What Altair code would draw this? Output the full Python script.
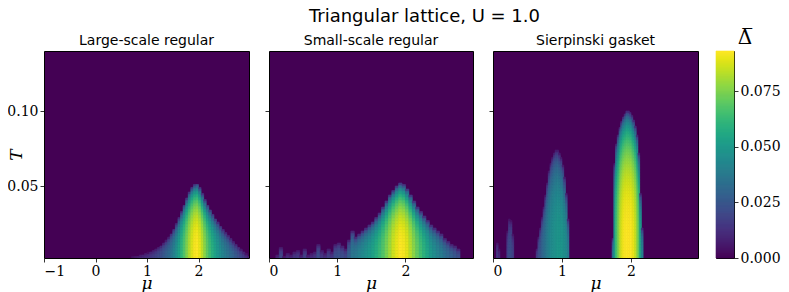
import altair as alt
import numpy as np
import pandas as pd

T_MIN, T_MAX, T_STEP = 0.002, 0.14, 0.001
GAP_MAX = 0.093

# ---------------- Panel 1: Large-scale regular (mu columns, width 0.05) ----------------
p1_step = 0.05
p1_mu = [0.60, 0.65, 0.70, 0.75, 0.80, 0.85, 0.90, 0.95, 1.00, 1.05, 1.10, 1.15,
         1.20, 1.25, 1.30, 1.35, 1.40, 1.45, 1.50, 1.55, 1.60, 1.65, 1.70, 1.75,
         1.80, 1.85, 1.90, 1.95, 2.00, 2.05, 2.10, 2.15, 2.20, 2.25, 2.30, 2.35,
         2.40, 2.45, 2.50, 2.55, 2.60, 2.65, 2.70, 2.75, 2.80, 2.85, 2.90, 2.95]
p1_tc = [0.0022, 0.0025, 0.0028, 0.0031, 0.0035, 0.0040, 0.0045, 0.0050, 0.0056, 0.0063, 0.0071, 0.0080,
         0.0091, 0.0104, 0.0120, 0.0138, 0.0158, 0.0185, 0.0215, 0.0250, 0.0290, 0.0330, 0.0375, 0.0420,
         0.0460, 0.0490, 0.0510, 0.0515, 0.0490, 0.0450, 0.0410, 0.0375, 0.0345, 0.0315, 0.0285, 0.0260,
         0.0235, 0.0212, 0.0190, 0.0170, 0.0150, 0.0130, 0.0112, 0.0095, 0.0078, 0.0062, 0.0047, 0.0033]
p1_gap = [0.006, 0.007, 0.008, 0.009, 0.010, 0.011, 0.012, 0.013, 0.014, 0.016, 0.017, 0.019,
          0.021, 0.023, 0.026, 0.029, 0.032, 0.036, 0.041, 0.047, 0.054, 0.061, 0.068, 0.075,
          0.082, 0.088, 0.092, 0.093, 0.090, 0.084, 0.077, 0.070, 0.064, 0.059, 0.054, 0.050,
          0.046, 0.042, 0.039, 0.036, 0.033, 0.030, 0.027, 0.024, 0.021, 0.018, 0.015, 0.012]

# ---------------- Panel 2: Small-scale regular ----------------
p2_step = 0.05
p2_mu = [0.10, 0.15, 0.20, 0.25, 0.30, 0.35, 0.40, 0.45, 0.50, 0.55, 0.60, 0.65,
         0.70, 0.75, 0.80, 0.85, 0.90, 0.95, 1.00, 1.05, 1.10, 1.15, 1.20, 1.25,
         1.30, 1.35, 1.40, 1.45, 1.50, 1.55, 1.60, 1.65, 1.70, 1.75, 1.80, 1.85,
         1.90, 1.95, 2.00, 2.05, 2.10, 2.15, 2.20, 2.25, 2.30, 2.35, 2.40, 2.45,
         2.50, 2.55, 2.60, 2.65, 2.70, 2.75]
p2_tc = [0.004, 0.009, 0.003, 0.005, 0.004, 0.006, 0.007, 0.004, 0.008, 0.004, 0.005, 0.006,
         0.011, 0.007, 0.005, 0.008, 0.006, 0.011, 0.012, 0.010, 0.008, 0.014, 0.020, 0.016,
         0.018, 0.020, 0.022, 0.024, 0.026, 0.029, 0.032, 0.036, 0.040, 0.044, 0.047, 0.050,
         0.052, 0.051, 0.048, 0.044, 0.040, 0.036, 0.033, 0.030, 0.027, 0.024, 0.022, 0.020,
         0.018, 0.015, 0.013, 0.011, 0.010, 0.008]
p2_gap = [0.012, 0.020, 0.010, 0.013, 0.012, 0.015, 0.016, 0.012, 0.018, 0.012, 0.013, 0.015,
          0.022, 0.016, 0.014, 0.018, 0.016, 0.022, 0.024, 0.022, 0.020, 0.028, 0.036, 0.038,
          0.041, 0.044, 0.047, 0.050, 0.054, 0.058, 0.063, 0.068, 0.074, 0.080, 0.086, 0.090,
          0.093, 0.092, 0.089, 0.083, 0.077, 0.071, 0.065, 0.060, 0.055, 0.050, 0.046, 0.042,
          0.039, 0.035, 0.032, 0.029, 0.026, 0.023]

# ---------------- Panel 3: Sierpinski gasket (mu columns, width 0.025) ----------------
p3_step = 0.025
p3_mu = [0.050, 0.075, 0.200, 0.225, 0.250, 0.275,
         0.625, 0.650, 0.675, 0.700, 0.725, 0.750, 0.775, 0.800, 0.825, 0.850,
         0.875, 0.900, 0.925, 0.950, 0.975, 1.000, 1.025, 1.050, 1.075,
         1.725, 1.750, 1.775, 1.800, 1.825, 1.850, 1.875, 1.900, 1.925, 1.950,
         1.975, 2.000, 2.025, 2.050, 2.075, 2.100, 2.125, 2.150]
p3_tc = [0.012, 0.008, 0.020, 0.028, 0.027, 0.018,
         0.008, 0.016, 0.022, 0.029, 0.036, 0.044, 0.052, 0.060, 0.065, 0.069,
         0.072, 0.074, 0.074, 0.072, 0.069, 0.064, 0.056, 0.045, 0.028,
         0.015, 0.065, 0.078, 0.084, 0.089, 0.093, 0.096, 0.098, 0.100, 0.100,
         0.099, 0.097, 0.094, 0.090, 0.084, 0.072, 0.045, 0.022]
p3_gap = [0.016, 0.012, 0.018, 0.022, 0.022, 0.018,
          0.018, 0.022, 0.026, 0.030, 0.033, 0.036, 0.039, 0.042, 0.044, 0.046,
          0.047, 0.048, 0.049, 0.049, 0.049, 0.048, 0.047, 0.045, 0.040,
          0.035, 0.050, 0.065, 0.074, 0.082, 0.088, 0.091, 0.093, 0.093, 0.093,
          0.093, 0.092, 0.090, 0.086, 0.079, 0.070, 0.055, 0.040]

titles = ["Large-scale regular", "Small-scale regular", "Sierpinski gasket"]
x_domains = [[-1, 2.98], [0, 2.99], [0, 2.97]]
x_ticks = [[-1, 0, 1, 2], [0, 1, 2], [0, 1, 2]]
y_ticks = [0.05, 0.10]
cb_ticks = [0.0, 0.025, 0.05, 0.075]


def cells(mu, step, tc, gap):
    rows = []
    t_edges = np.arange(T_MIN, T_MAX, T_STEP)
    for m, c, g in zip(mu, tc, gap):
        for t0 in t_edges:
            tm = t0 + T_STEP / 2
            if tm >= c:
                break
            d = g * np.tanh(1.74 * np.sqrt(c / tm - 1.0))
            rows.append(dict(x0=m, x1=m + step, t0=t0, t1=t0 + T_STEP, d=d))
    return pd.DataFrame(rows)


cscale = alt.Scale(scheme="viridis", domain=[0, GAP_MAX])


def panel(df, title, xdom, xt, first, w):
    yaxis = alt.Axis(values=y_ticks, format=".2f", title="T", titleAngle=270,
                     titleX=-19, titleY=103.5, titleAlign="center", titleBaseline="bottom",
                     labelPadding=2) if first else \
        alt.Axis(values=y_ticks, labels=False, title=None)
    return alt.Chart(df).mark_rect(clip=True, strokeWidth=0.6).encode(
        x=alt.X("x0:Q", scale=alt.Scale(domain=xdom, nice=False, zero=False),
                axis=alt.Axis(values=xt, format="d", title="μ", titleY=30,
                              titleBaseline="alphabetic", labelPadding=2)),
        x2="x1:Q",
        y=alt.Y("t0:Q", scale=alt.Scale(domain=[T_MIN, T_MAX], nice=False, zero=False),
                axis=yaxis),
        y2="t1:Q",
        color=alt.Color("d:Q", scale=cscale, legend=None),
        stroke=alt.Stroke("d:Q", scale=cscale, legend=None),
    ).properties(width=w, height=207,
                 title=alt.Title(title, anchor="middle", fontSize=14, offset=3))


p1 = panel(cells(p1_mu, p1_step, p1_tc, p1_gap), titles[0], x_domains[0], x_ticks[0], True, 205)
p2 = panel(cells(p2_mu, p2_step, p2_tc, p2_gap), titles[1], x_domains[1], x_ticks[1], False, 204)
p3 = panel(cells(p3_mu, p3_step, p3_tc, p3_gap), titles[2], x_domains[2], x_ticks[2], False, 205)

# colorbar
cb_lo = np.linspace(0, GAP_MAX, 208)[:-1]
cb_df = pd.DataFrame({"v0": cb_lo, "v1": cb_lo + GAP_MAX / 207, "v": cb_lo + GAP_MAX / 414})
cb = alt.Chart(cb_df).mark_rect(strokeWidth=0.6).encode(
    y=alt.Y("v0:Q", scale=alt.Scale(domain=[0, GAP_MAX], nice=False, zero=False),
            axis=alt.Axis(orient="right", values=cb_ticks, format=".3f", title=None,
                          labelPadding=2)),
    y2="v1:Q",
    color=alt.Color("v:Q", scale=cscale, legend=None),
    stroke=alt.Stroke("v:Q", scale=cscale, legend=None),
).properties(width=18, height=207,
             title=alt.Title("Δ\u0305", anchor="middle", font="DejaVu Serif",
                             fontSize=20, offset=3, dx=20))

inner = alt.hconcat(p1, p2, p3, spacing=20, bounds="flush")
chart = alt.hconcat(inner, cb, spacing=16).properties(
    title=alt.Title("Triangular lattice, U = 1.0", anchor="middle", fontSize=18,
                    font="DejaVu Sans", offset=1, dx=31),
    padding={"left": -2, "top": 0, "right": 0, "bottom": 0},
).configure_view(
    fill="#440154", stroke="black", strokeWidth=1
).configure_axis(
    labelFont="DejaVu Serif", labelFontSize=14, labelColor="black",
    tickColor="black", tickSize=4, tickWidth=0.8, domain=False, grid=False,
    titleFont="DejaVu Serif", titleFontStyle="italic", titleFontWeight="normal",
    titleFontSize=17, titleColor="black"
).configure_title(
    font="DejaVu Sans", fontWeight="normal", color="black"
)

chart.save("out.html", embed_options={"renderer": "svg", "actions": False})
